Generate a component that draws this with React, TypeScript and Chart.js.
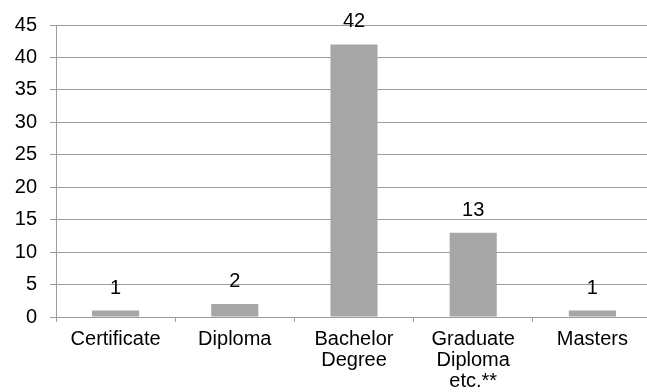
import React, { useEffect, useRef } from "react";
import { Chart, registerables } from "chart.js";

Chart.register(...registerables);

const categories: (string | string[])[] = [
  "Certificate",
  "Diploma",
  ["Bachelor", "Degree"],
  ["Graduate", "Diploma", "etc.**"],
  "Masters",
];
const counts = [1, 2, 42, 13, 1];
const yTicks = [0, 5, 10, 15, 20, 25, 30, 35, 40, 45];

const FONT = '"Liberation Sans", Arial, sans-serif';
const GRID = "#9c9c9c";

const valueLabels = {
  id: "valueLabels",
  afterDatasetsDraw(chart: any) {
    const ctx = chart.ctx;
    const meta = chart.getDatasetMeta(0);
    ctx.save();
    ctx.font = `20px ${FONT}`;
    ctx.fillStyle = "#000";
    ctx.textAlign = "center";
    ctx.textBaseline = "alphabetic";
    meta.data.forEach((bar: any, i: number) => {
      ctx.fillText(String(counts[i]), bar.x, bar.y - 17);
    });
    ctx.restore();
  },
};

export default function App() {
  const ref = useRef<HTMLCanvasElement>(null);
  useEffect(() => {
    if (!ref.current) return;
    const chart = new Chart(ref.current, {
      type: "bar",
      data: {
        labels: categories,
        datasets: [
          {
            data: counts,
            backgroundColor: "#a6a6a6",
            borderWidth: 0,
            barPercentage: 0.395,
            categoryPercentage: 1,
          },
        ],
      },
      options: {
        responsive: false,
        animation: false,
        layout: { padding: { top: 22, right: 8, left: 0, bottom: 0 } },
        plugins: { legend: { display: false }, tooltip: { enabled: false } },
        scales: {
          x: {
            grid: {
              drawOnChartArea: false,
              drawTicks: true,
              tickLength: 5,
              color: GRID,
              offset: true,
            },
            border: { display: true, color: GRID },
            ticks: {
              color: "#000",
              font: { family: FONT, size: 20, lineHeight: 1.05 },
              padding: 7,
              maxRotation: 0,
              autoSkip: false,
            },
            afterFit(scale: any) {
              scale.height = 75;
            },
          },
          y: {
            min: 0,
            max: 45,
            afterBuildTicks(scale: any) {
              scale.ticks = yTicks.map((v) => ({ value: v }));
            },
            grid: {
              color: GRID,
              tickLength: 6,
              drawTicks: true,
            },
            border: { display: true, color: GRID },
            ticks: {
              color: "#000",
              font: { family: FONT, size: 20 },
              padding: 13,
            },
            afterFit(scale: any) {
              scale.width = 56;
            },
          },
        },
      },
      plugins: [valueLabels],
    });
    return () => chart.destroy();
  }, []);
  return (
    <div style={{ position: "fixed", left: 0, top: 0, width: 647, height: 392, overflow: "hidden", background: "#fff" }}>
      <canvas ref={ref} width={660} height={392} style={{ width: 660, height: 392, display: "block" }} />
    </div>
  );
}
